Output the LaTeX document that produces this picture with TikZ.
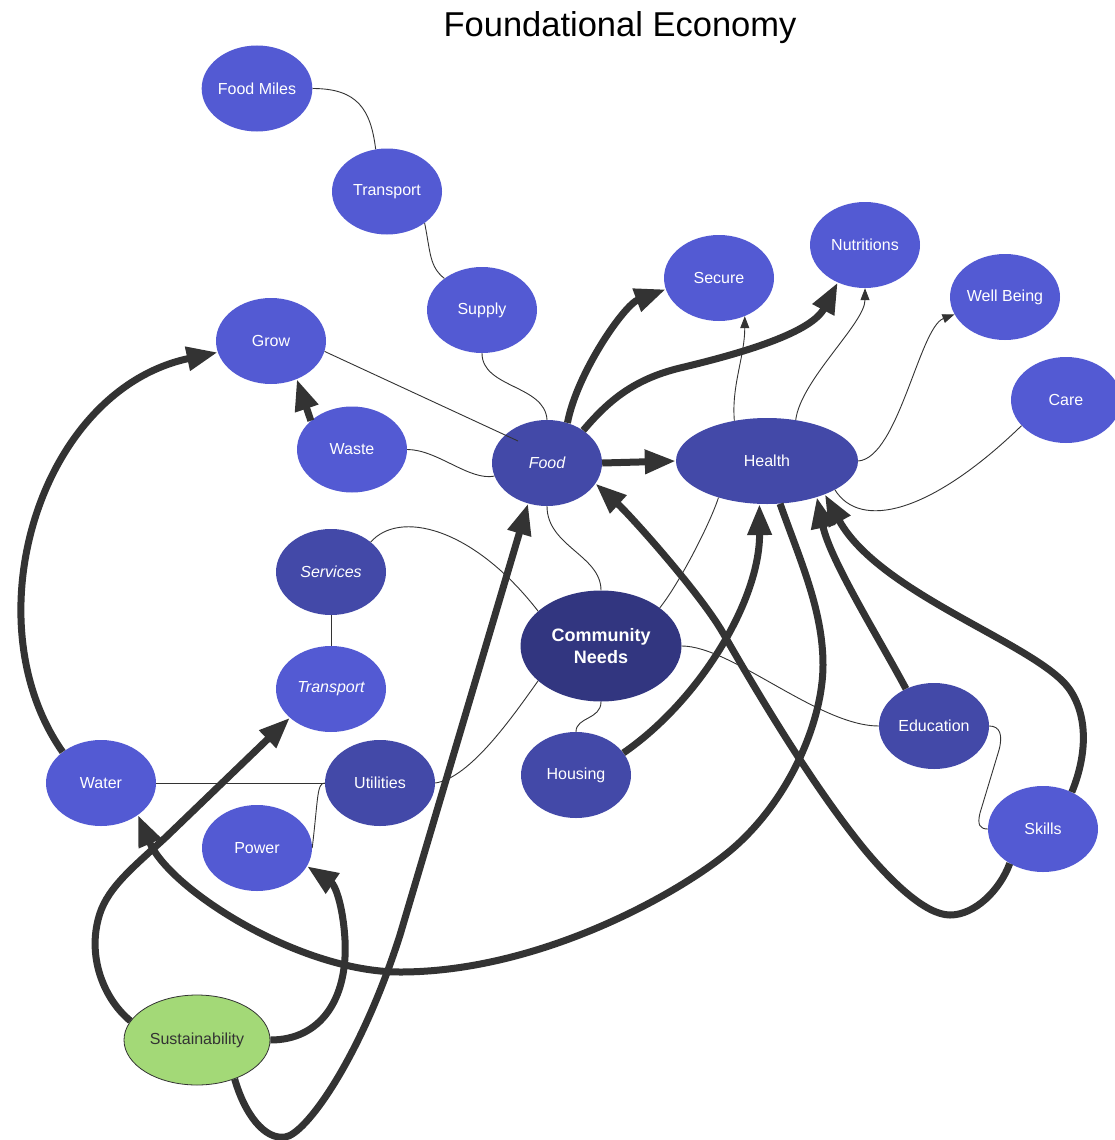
\documentclass[tikz,border=0pt]{standalone}
\usepackage{fontspec}
\setmainfont{Liberation Sans}
\usetikzlibrary{shapes.geometric,arrows.meta}
\definecolor{nodelight}{RGB}{83,90,211}
\definecolor{nodemid}{RGB}{67,73,168}
\definecolor{nodedark}{RGB}{50,54,128}
\definecolor{sustgreen}{RGB}{163,217,119}
\definecolor{ink}{RGB}{51,51,51}
\tikzset{
  blob/.style={ellipse, minimum width=110pt, minimum height=86pt, inner sep=0pt,
    text=white, font=\fontsize{16}{19}\selectfont},
  lightnode/.style={blob, fill=nodelight},
  midnode/.style={blob, fill=nodemid},
  link/.style={draw=ink, line width=0.9pt},
  linkarrow/.style={link, -{Triangle[length=12pt,width=9pt]}},
  flow/.style={draw=ink, line width=7pt, -{Triangle[length=31pt,width=23pt]}},
}
\begin{document}
\begin{tikzpicture}[x=1pt, y=-1pt]
\useasboundingbox (0,0) rectangle (1115,1140);
\fill[white] (0,0) rectangle (1115,1140);

\node (title) at (620,28) {\fontsize{34.5}{41}\selectfont Foundational Economy};

% nodes
\node[lightnode] (foodmiles) at (257,88.5) {Food Miles};
\node[lightnode] (transA) at (387,191.5) {Transport};
\node[lightnode] (supply) at (482,310) {Supply};
\node[lightnode] (grow) at (271,341) {Grow};
\node[lightnode] (waste) at (352,449.5) {Waste};
\node[midnode] (food) at (547,463) {\itshape Food};
\node[midnode, minimum width=182pt] (health) at (767,461) {Health};
\node[lightnode] (secure) at (719,278) {Secure};
\node[lightnode] (nutri) at (865,245) {Nutritions};
\node[lightnode] (wellbeing) at (1005,297) {Well Being};
\node[lightnode] (care) at (1066,400) {Care};
\node[midnode] (services) at (331,572) {\itshape Services};
\node[lightnode] (transB) at (331,689) {\itshape Transport};
\node[blob, fill=nodedark, minimum width=161pt, minimum height=111pt, align=center,
  font=\fontsize{18}{22}\selectfont\bfseries] (community) at (601,646) {Community\\Needs};
\node[lightnode] (water) at (101,783) {Water};
\node[midnode] (utilities) at (380,783) {Utilities};
\node[lightnode] (power) at (257,848) {Power};
\node[midnode] (housing) at (576,775) {Housing};
\node[midnode] (education) at (934,726) {Education};
\node[lightnode] (skills) at (1043,829) {Skills};
\node[blob, fill=sustgreen, draw=ink, line width=0.8pt, text=ink,
  minimum width=146pt, minimum height=90pt] (sust) at (197,1040) {Sustainability};

% thin links
\draw[link] (foodmiles.east) .. controls +(45,0) and +(-5,-40) .. (transA.105);
\draw[link] (transA.-40) .. controls +(6,30) and +(-15,-12) .. (supply.140);
\draw[link] (supply.south) .. controls +(0,35) and +(-2,-35) .. (food.north);
\draw[link] (grow.-11) -- ([shift={(-29,-22)}]food.center);
\draw[link] (waste.east) .. controls +(30,0) and +(-25,5) .. (food.194);
\draw[link] (food.south) .. controls +(0,40) and +(0,-35) .. (community.north);
\draw[link] (services.37) .. controls +(28,-32) and +(-66,-85) .. (community.151);
\draw[link] (services.south) -- (transB.north);
\draw[link] (water.east) -- (utilities.west);
\draw[link] (power.east) .. controls +(6,-50) and +(-8,0) .. (utilities.west);
\draw[link] (utilities.east) .. controls +(35,-5) and +(-25,35) .. (community.209);
\draw[link] (community.east) .. controls +(50,0) and +(-60,0) .. (education.west);
\draw[link] (community.south) .. controls +(0,18) and +(0,-15) .. (housing.north);
\draw[link] (community.33) .. controls +(20,-25) and +(-8,25) .. (health.217);
\draw[linkarrow] (health.129) .. controls +(-3,-35) and +(0,40) .. (secure.-56);
\draw[linkarrow] (health.55) .. controls +(5,-40) and +(0,35) .. (nutri.south);
\draw[linkarrow] (health.east) .. controls +(40,-3) and +(-35,13) .. (wellbeing.199);
\draw[link] (health.-23) .. controls +(25,40) and +(-92,89) .. (care.210);
\draw[link] (education.east) .. controls (1000,726) and (1003,735) .. (999,750)
  -- (980,813) .. controls (977,825) and (980,829) .. (skills.west);

% thick flows
\draw[flow] (waste.145) -- (grow.-56);
\draw[flow] (water.141) .. controls (-30,620) and (40,390) .. (grow.192);
\draw[flow] (food.63) .. controls (577,373) and (624,305) .. (secure.192);
\draw[flow] (food.42) .. controls (605,405) and (630,380) .. (680,368)
  .. controls (730,356) and (810,335) .. (nutri.234);
\draw[flow] (food.east) -- (health.west);
\draw[flow] (housing.25) .. controls (700,700) and (760,600) .. (health.260);
\draw[flow] (skills.226) .. controls (1000,890) and (975,915) .. (950,915)
  .. controls (925,915) and (890,880) .. (865,850)
  .. controls (820,795) and (770,715) .. (723,633)
  .. controls (700,593) and (630,515) .. (food.-23);
\draw[flow] (health.-73) .. controls (800,560) and (823,610) .. (823,665)
  .. controls (823,720) and (790,800) .. (731,850)
  .. controls (680,893) and (540,972) .. (400,972)
  .. controls (300,972) and (170,890) .. (water.-41);
\draw[flow] (education.127) .. controls (880,640) and (830,560) .. (health.-36);
\draw[flow] (skills.52) .. controls (1085,760) and (1090,720) .. (1070,690)
  .. controls (1040,645) and (880,595) .. (health.-30);
\draw[flow] (sust.164) .. controls (105,1000) and (88,960) .. (98,920)
  .. controls (105,890) and (130,870) .. (165,838) -- (transB.215);
\draw[flow] (sust.east) .. controls (320,1040) and (348,1000) .. (345,940)
  .. controls (343,905) and (335,885) .. (power.-20);
\draw[flow] (sust.-46) .. controls (245,1115) and (265,1140) .. (285,1137)
  .. controls (305,1135) and (360,1060) .. (400,935) -- (food.245);
\end{tikzpicture}
\end{document}
